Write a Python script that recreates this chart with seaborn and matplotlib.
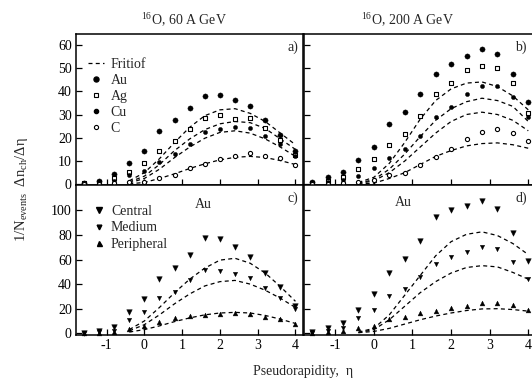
import numpy as np
import pandas as pd
import matplotlib
matplotlib.use("Agg")
import matplotlib.pyplot as plt
from matplotlib.lines import Line2D
import seaborn as sns

# ---------------- data ----------------
eta = [-1.6, -1.2, -0.8, -0.4, 0.0, 0.4, 0.8, 1.2, 1.6, 2.0, 2.4, 2.8, 3.2, 3.6, 4.0]

# panel a: 16O, 60 A GeV
au60 = [0.5, 1.6, 4.4, 9.1, 14.1, 23.0, 27.5, 32.6, 37.8, 38.4, 36.2, 33.6, 27.5, 21.0, 14.1]
ag60 = [0.5, 1.0, 2.5, 5.2, 9.1, 14.1, 18.7, 23.9, 28.7, 29.9, 28.0, 28.5, 24.2, 19.1, 12.7]
cu60 = [0.3, 0.8, 1.5, 4.0, 5.8, 9.6, 13.1, 17.3, 22.3, 23.7, 24.6, 24.2, 20.9, 17.3, 12.0]
c60 = [0.2, 0.3, 0.5, 0.8, 1.0, 2.9, 4.1, 7.0, 8.8, 10.8, 12.3, 13.4, 12.3, 11.3, 8.4]

# panel b: 16O, 200 A GeV
au200 = [1.0, 3.2, 5.5, 10.6, 16.2, 25.8, 31.1, 38.8, 47.2, 51.6, 55.1, 58.1, 55.8, 47.2, 35.2]
ag200 = [0.5, 1.5, 3.2, 6.6, 10.8, 16.9, 21.8, 29.4, 39.0, 43.4, 49.0, 51.0, 50.0, 43.6, 30.5]
cu200 = [0.3, 1.0, 1.8, 3.5, 7.0, 11.5, 15.1, 20.6, 29.0, 33.4, 39.0, 42.4, 42.4, 37.6, 29.0]
c200 = [0.2, 0.3, 0.5, 0.8, 1.7, 3.8, 4.9, 8.2, 11.8, 15.3, 19.4, 22.3, 23.8, 22.2, 18.7]

# panel c: Au target, 60 A GeV, centrality classes
cen60 = [0.5, 1.5, 5.0, 17.6, 27.9, 44.2, 53.4, 63.7, 77.2, 76.4, 70.5, 62.3, 49.3, 37.4, 22.2]
med60 = [0.3, 1.0, 2.0, 10.8, 17.6, 28.5, 33.9, 43.4, 51.5, 51.0, 48.0, 44.7, 37.1, 28.5, 19.8]
per60 = [0.2, 0.5, 1.0, 3.3, 6.2, 9.5, 12.2, 14.1, 14.9, 15.4, 16.3, 15.4, 13.6, 11.4, 7.6]

# panel d: Au target, 200 A GeV, centrality classes
cen200 = [1.0, 4.0, 8.0, 19.3, 31.6, 49.0, 60.3, 75.0, 94.4, 100.5, 103.8, 107.2, 101.3, 81.2, 59.0]
med200 = [0.5, 2.0, 4.0, 12.6, 19.3, 30.3, 36.2, 45.6, 56.3, 62.2, 66.5, 70.2, 68.4, 58.2, 44.0]
per200 = [0.3, 1.0, 1.5, 4.0, 6.2, 11.3, 13.4, 16.1, 18.0, 20.6, 22.0, 24.9, 24.9, 22.8, 18.8]

# Fritiof model curves
eta_f = [-0.4, 0.0, 0.4, 0.8, 1.2, 1.6, 2.0, 2.4, 2.8, 3.2, 3.6, 4.0]
fa1 = [1.5, 5.0, 11.0, 18.0, 24.5, 29.5, 32.0, 32.5, 30.5, 27.0, 22.0, 17.0]
fa2 = [1.0, 3.5, 8.5, 14.5, 19.5, 23.5, 26.0, 27.0, 26.5, 24.0, 19.5, 15.0]
fa3 = [0.6, 2.5, 6.5, 11.5, 16.0, 19.8, 22.3, 23.0, 22.0, 19.5, 16.0, 12.0]
fa4 = [0.2, 0.8, 2.5, 4.5, 6.8, 8.8, 10.5, 11.6, 12.0, 11.5, 10.2, 8.5]

fb1 = [0.8, 3.0, 9.0, 18.0, 28.0, 36.0, 41.0, 43.5, 44.0, 42.0, 38.0, 32.0]
fb2 = [0.5, 2.0, 6.5, 13.0, 20.5, 27.5, 32.5, 35.5, 37.0, 36.0, 33.5, 27.0]
fb3 = [0.3, 1.5, 5.0, 10.0, 16.0, 22.0, 27.0, 30.0, 31.0, 30.0, 27.5, 23.0]
fb4 = [0.1, 0.5, 2.5, 5.0, 8.5, 12.0, 14.5, 16.5, 17.5, 17.8, 17.0, 15.5]

fc1 = [3.0, 10.0, 21.0, 33.0, 44.0, 53.0, 59.5, 61.0, 57.0, 49.0, 38.0, 26.0]
fc2 = [2.0, 7.0, 15.0, 24.0, 32.0, 38.5, 42.0, 43.0, 40.0, 35.0, 28.5, 21.0]
fc3 = [1.0, 3.0, 6.0, 9.5, 12.5, 15.0, 16.5, 17.0, 16.5, 14.5, 11.5, 8.0]

fd1 = [1.0, 4.0, 15.0, 31.0, 47.0, 63.0, 74.5, 80.5, 82.5, 79.5, 73.0, 64.0]
fd2 = [0.5, 3.0, 11.0, 22.0, 33.0, 42.0, 49.0, 53.5, 55.0, 54.0, 49.5, 44.0]
fd3 = [0.5, 1.5, 4.0, 7.5, 11.0, 14.0, 16.5, 18.5, 19.8, 20.0, 19.3, 18.0]

titles = ["$^{16}$O, 60 A GeV", "$^{16}$O, 200 A GeV"]
xticks = [-1, 0, 1, 2, 3, 4]
yticks_top = [0, 10, 20, 30, 40, 50, 60]
yticks_bot = [0, 20, 40, 60, 80, 100]

# ---------------- style ----------------
sns.set_theme(style="ticks")
plt.rcParams["font.family"] = ["Liberation Serif", "DejaVu Serif"]
plt.rcParams["mathtext.fontset"] = "custom"
plt.rcParams["mathtext.rm"] = "Liberation Serif"
plt.rcParams["mathtext.it"] = "Liberation Serif:italic"
plt.rcParams["axes.unicode_minus"] = False

W, H = 532, 385
fig = plt.figure(figsize=(W / 100, H / 100), dpi=100)

def px_axes(left, top, width, height):
    return fig.add_axes([left / W, 1 - (top + height) / H, width / W, height / H])

ax_a = px_axes(76, 34, 227, 151)
ax_b = px_axes(304, 34, 232, 151)
ax_c = px_axes(76, 185, 227, 150)
ax_d = px_axes(304, 185, 232, 150)

dash = (0, (3.2, 2.6))

def curves(ax, ys):
    for y in ys:
        df = pd.DataFrame({"eta": eta_f, "v": y})
        sns.lineplot(data=df, x="eta", y="v", ax=ax, color="black", lw=0.9,
                     linestyle=dash, legend=False)

def points(ax, y, marker, s, filled=True, lw=0.8):
    df = pd.DataFrame({"eta": eta, "v": y})
    if filled:
        sns.scatterplot(data=df, x="eta", y="v", ax=ax, marker=marker, s=s,
                        color="black", edgecolor="black", linewidth=0.3,
                        clip_on=False, zorder=3, legend=False)
    else:
        sns.scatterplot(data=df, x="eta", y="v", ax=ax, marker=marker, s=s,
                        facecolor="white", edgecolor="black", linewidth=lw,
                        clip_on=False, zorder=3, legend=False)

# panel a
curves(ax_a, [fa1, fa2, fa3, fa4])
points(ax_a, au60, "o", 14)
points(ax_a, ag60, "s", 9, filled=False)
points(ax_a, cu60, "o", 9)
points(ax_a, c60, "o", 9, filled=False)
# panel b
curves(ax_b, [fb1, fb2, fb3, fb4])
points(ax_b, au200, "o", 14)
points(ax_b, ag200, "s", 9, filled=False)
points(ax_b, cu200, "o", 9)
points(ax_b, c200, "o", 9, filled=False)
# panel c
curves(ax_c, [fc1, fc2, fc3])
points(ax_c, cen60, "v", 16)
points(ax_c, med60, "v", 10)
points(ax_c, per60, "^", 12)
# panel d
curves(ax_d, [fd1, fd2, fd3])
points(ax_d, cen200, "v", 16)
points(ax_d, med200, "v", 10)
points(ax_d, per200, "^", 12)

for ax in (ax_a, ax_b, ax_c, ax_d):
    ax.set_xlim(-1.81, 4.2)
    ax.set_xticks(xticks)
    ax.set_xlabel("")
    ax.set_ylabel("")
    ax.tick_params(direction="in", length=4, width=0.9, colors="black",
                   labelsize=10, pad=3)
    for sp in ax.spines.values():
        sp.set_visible(True)
        sp.set_linewidth(1.1)
        sp.set_color("black")
    ax.set_facecolor("white")

for ax in (ax_a, ax_b):
    ax.set_ylim(-0.3, 64.6)
    ax.set_yticks(yticks_top)
    ax.tick_params(labelbottom=False)
for ax in (ax_c, ax_d):
    ax.set_ylim(-1.4, 120.6)
    ax.set_yticks(yticks_bot)
    ax.set_xticklabels([str(t) for t in xticks])
for ax in (ax_b, ax_d):
    ax.tick_params(labelleft=False)

# legends
h_top = [Line2D([], [], color="black", lw=0.9, linestyle=dash),
         Line2D([], [], marker="o", ls="", color="black", ms=3.6),
         Line2D([], [], marker="s", ls="", mfc="white", mec="black", ms=3.0, mew=0.8),
         Line2D([], [], marker="o", ls="", color="black", ms=3.0),
         Line2D([], [], marker="o", ls="", mfc="white", mec="black", ms=3.0, mew=0.8)]
ax_a.legend(h_top, ["Fritiof", "Au", "Ag", "Cu", "C"], loc="upper left",
            bbox_to_anchor=(0.012, 0.905), frameon=False, fontsize=10,
            handlelength=1.15, handletextpad=0.45, labelspacing=0.21,
            borderpad=0.2)
h_bot = [Line2D([], [], marker="v", ls="", color="black", ms=4.0),
         Line2D([], [], marker="v", ls="", color="black", ms=3.4),
         Line2D([], [], marker="^", ls="", color="black", ms=3.6)]
ax_c.legend(h_bot, ["Central", "Medium", "Peripheral"], loc="upper left",
            bbox_to_anchor=(0.035, 0.93), frameon=False, fontsize=10,
            handlelength=0.8, handletextpad=0.45, labelspacing=0.23,
            borderpad=0.2)

# panel labels
for ax, lab, xx in ((ax_a, "a)", 0.955), (ax_b, "b)", 0.935),
                    (ax_c, "c)", 0.955), (ax_d, "d)", 0.935)):
    ax.text(xx, 0.91, lab, transform=ax.transAxes, ha="center", va="center",
            fontsize=10)
ax_c.text(0.56, 0.87, "Au", transform=ax_c.transAxes, ha="center", va="center",
          fontsize=10)
ax_d.text(0.43, 0.88, "Au", transform=ax_d.transAxes, ha="center", va="center",
          fontsize=10)

# titles and axis labels
fig.text(184 / W, 1 - 20 / H, titles[0], ha="center", va="center", fontsize=10)
fig.text(407 / W, 1 - 20 / H, titles[1], ha="center", va="center", fontsize=10)
fig.text(22 / W, 1 - 190 / H, "1/N$_{\\rm events}$  Δn$_{\\rm ch}$/Δη",
         rotation=90, ha="center", va="center", fontsize=10.5)
fig.text(303 / W, 1 - 372 / H, "Pseudorapidity,  η", ha="center", va="center",
         fontsize=10)

fig.savefig("out.png", dpi=100, facecolor="white")
